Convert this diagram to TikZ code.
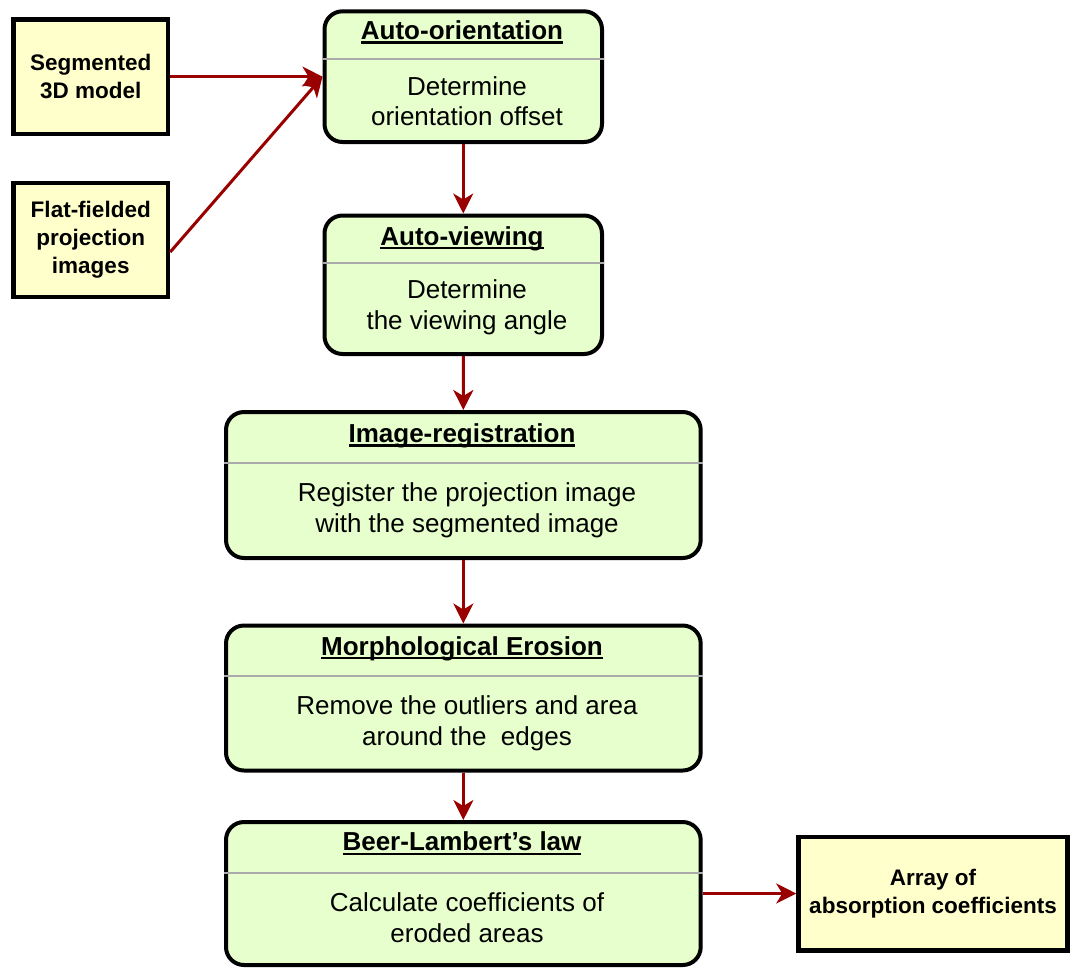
\documentclass[tikz,border=0pt]{standalone}
\usepackage{fontspec}
\setmainfont{Liberation Sans}
\usetikzlibrary{arrows.meta}
\definecolor{stepgreen}{RGB}{230,255,204}
\definecolor{inyellow}{RGB}{255,255,204}
\definecolor{arrowred}{RGB}{153,0,0}
\definecolor{sepgray}{RGB}{170,170,170}
\newcommand{\ulhead}[1]{\setbox0=\hbox{#1}\rlap{\rule[-4.3pt]{\wd0}{2.2pt}}\box0}

\begin{document}
\begin{tikzpicture}[x=1pt, y=-1pt,
    stepbox/.style={draw, line width=4pt, rounded corners=18pt, fill=stepgreen, inner sep=0pt},
    inbox/.style={draw, line width=4.5pt, fill=inyellow, inner sep=0pt, align=center,
        font=\fontsize{22.5}{28}\selectfont\bfseries},
    steptitle/.style={anchor=base, inner sep=0pt, font=\fontsize{26}{31}\selectfont\bfseries},
    stepbody/.style={align=center, inner sep=0pt, font=\fontsize{26}{30.5}\selectfont},
    sepline/.style={draw=sepgray, line width=2pt},
    flow/.style={draw=arrowred, line width=3pt, -{Stealth[length=20pt,width=20pt,inset=6pt]}}]
    \useasboundingbox (0,0) rectangle (1070,967);

    % inputs and output
    \node[inbox, minimum width=154.5, minimum height=114.5] (seg) at (90.75,76.65) {Segmented\\3D model};
    \node[inbox, minimum width=154.5, minimum height=114] (flat) at (90.75,240) {Flat-fielded\\projection\\images};
    \node[inbox, minimum width=269, minimum height=113.5] (array) at (933,893.5) {Array of\\absorption coefficients};

    % processing steps
    \node[stepbox, minimum width=277.5, minimum height=130.7] (orient) at (463.25,76.65) {};
    \draw[sepline] (orient.west |- 0,58.7) -- (orient.east |- 0,58.7);
    \node[steptitle] (orientT) at (462,39.3) {\ulhead{Auto-orientation}};
    \node[stepbody] (orientB) at (467,101) {Determine\\orientation offset};

    \node[stepbox, minimum width=277.5, minimum height=138.5] (view) at (463.25,284.75) {};
    \draw[sepline] (view.west |- 0,263.3) -- (view.east |- 0,263.3);
    \node[steptitle] (viewT) at (462,245) {\ulhead{Auto-viewing}};
    \node[stepbody] (viewB) at (467,307.1) {Determine\\the viewing angle};

    \node[stepbox, minimum width=474.7, minimum height=146] (reg) at (463.35,485) {};
    \draw[sepline] (reg.west |- 0,462.7) -- (reg.east |- 0,462.7);
    \node[steptitle] (regT) at (462,442.3) {\ulhead{Image-registration}};
    \node[stepbody] (regB) at (467,510.5) {Register the projection image\\with the segmented image};

    \node[stepbox, minimum width=474.7, minimum height=145] (erode) at (463.35,698) {};
    \draw[sepline] (erode.west |- 0,676) -- (erode.east |- 0,676);
    \node[steptitle] (erodeT) at (462,655) {\ulhead{Morphological Erosion}};
    \node[stepbody] (erodeB) at (467,723.5) {Remove the outliers and area\\around the\ \ edges};

    \node[stepbox, minimum width=474.7, minimum height=143] (beer) at (463.35,893.5) {};
    \draw[sepline] (beer.west |- 0,872.7) -- (beer.east |- 0,872.7);
    \node[steptitle] (beerT) at (462,850.7) {\ulhead{Beer-Lambert's law}};
    \node[stepbody] (beerB) at (467,917.6) {Calculate coefficients of\\eroded areas};

    % connectors
    \draw[flow] (seg) -- (orient);
    \draw[flow] ([yshift=-12pt]flat.east) -- (orient.west);
    \draw[flow] (orient) -- (view);
    \draw[flow] (view) -- (reg);
    \draw[flow] (reg) -- (erode);
    \draw[flow] (erode) -- (beer);
    \draw[flow] (beer) -- (array);
\end{tikzpicture}
\end{document}
